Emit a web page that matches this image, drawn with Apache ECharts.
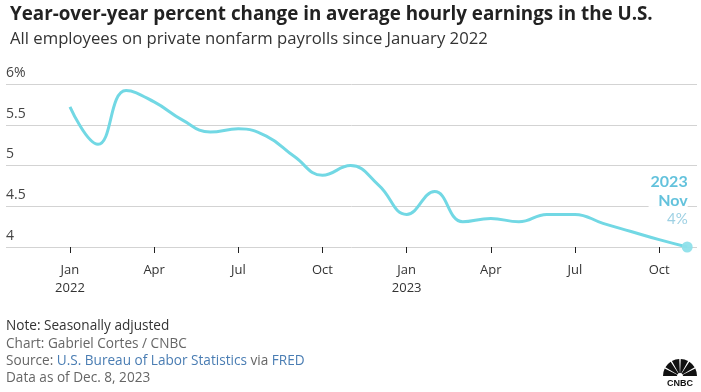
<!DOCTYPE html>
<html><head><meta charset="utf-8">
<script src="https://cdn.jsdelivr.net/npm/echarts@6/dist/echarts.min.js"></script>
<style>html,body{margin:0;padding:0;background:#fff}#c{width:701px;height:392px}</style>
</head><body><div id="c"></div>
<script>
// Monthly, Jan 2022 .. Nov 2023
const months = ['Jan 2022','Feb 2022','Mar 2022','Apr 2022','May 2022','Jun 2022','Jul 2022','Aug 2022','Sep 2022','Oct 2022','Nov 2022','Dec 2022',
                'Jan 2023','Feb 2023','Mar 2023','Apr 2023','May 2023','Jun 2023','Jul 2023','Aug 2023','Sep 2023','Oct 2023','Nov 2023'];
const values = [5.72,5.26,5.92,5.78,5.56,5.41,5.45,5.36,5.11,4.88,5.0,4.76,
                4.40,4.68,4.31,4.35,4.31,4.40,4.40,4.29,4.19,4.09,4.0];
const tickIdx = [0,3,6,9,12,15,18,21];
const tickLabels = ['Jan\n2022','Apr','Jul','Oct','Jan\n2023','Apr','Jul','Oct'];

const chart = echarts.init(document.getElementById('c'), null, {renderer:'canvas'});
const lineData = values.map((v,i)=>[i,v]);
const last = lineData[lineData.length-1];
const F = '"Open Sans", "Noto Sans", sans-serif';
const P = '"Open Sans", Lato, sans-serif';

function peacock(){
  const cx = 680, cy = 376, els = [];
  const n = 6, start = 180, end = 360, gap = 5;
  const w = (end-start - gap*(n-1))/n;
  for(let i=0;i<n;i++){
    const a0 = start + i*(w+gap), a1 = a0 + w;
    els.push({type:'sector', shape:{cx:cx, cy:cy, r0:3, r:17, startAngle:a0*Math.PI/180, endAngle:a1*Math.PI/180}, style:{fill:'#111'}});
  }
  els.push({type:'text', style:{text:'CNBC', x:cx, y:cy+8, align:'center', verticalAlign:'middle', font:'bold 9px Arial, "Liberation Sans", sans-serif', fill:'#111'}});
  return els;
}

chart.setOption({
  animation:false,
  backgroundColor:'#fff',
  title:[
    {text:'Year-over-year percent change in average hourly earnings in the U.S.', left:5, top:0,
     textStyle:{fontFamily:P, fontWeight:'bold', fontSize:18.8, color:'#222'}},
    {text:'All employees on private nonfarm payrolls since January 2022', left:5, top:26,
     textStyle:{fontFamily:P, fontWeight:'normal', fontSize:16.7, color:'#333'}}
  ],
  grid:{left:6, right:4, top:84, bottom:145, containLabel:false},
  xAxis:{
    type:'value', min:-2.28, max:22.35,
    splitLine:{show:false},
    axisLine:{show:false},
    axisTick:{show:true, customValues:tickIdx, length:6, lineStyle:{color:'#222', width:1}},
    axisLabel:{show:true, customValues:tickIdx, margin:14, fontSize:13, lineHeight:18, color:'#333', fontFamily:F,
      formatter:(v)=>{const k=tickIdx.indexOf(Math.round(v)); return k>=0?tickLabels[k]:'';}}
  },
  yAxis:{
    type:'value', min:4, max:6, interval:0.5,
    axisLine:{show:false}, axisTick:{show:false},
    splitLine:{show:true, lineStyle:{color:'#d3d3d3', width:1}},
    axisLabel:{inside:true, verticalAlign:'bottom', margin:0, padding:[0,0,4,0], fontSize:14, color:'#444', fontFamily:F,
      formatter:(v)=> v===6 ? '6%' : String(v)}
  },
  series:[
    {type:'line', data:lineData, smooth:0.45, symbol:'none', lineStyle:{color:'#72d8e4', width:3}, z:3},
    {type:'scatter', data:[last], symbolSize:11, itemStyle:{color:'#8fe0ea', opacity:0.95}, z:4,
     label:{show:true, position:[6,-13], align:'right', verticalAlign:'bottom', backgroundColor:'#fff', padding:[0,0,0,2],
       formatter:()=>'{a|2023}\n{a|Nov}\n{b|4%}',
       rich:{a:{fontFamily:'Lato, "Open Sans", sans-serif', fontWeight:'bold', fontSize:16, color:'#5bbfda', lineHeight:19, align:'right'},
             b:{fontFamily:'Lato, "Open Sans", sans-serif', fontSize:15, color:'#98cde2', lineHeight:18, align:'right'}}}}
  ],
  graphic:[
    {type:'text', left:6, top:319, style:{text:'Note: Seasonally adjusted', font:'13.6px ' + P, fill:'#333'}},
    {type:'text', left:6, top:337, style:{text:'Chart: Gabriel Cortes / CNBC', font:'13.6px ' + P, fill:'#666'}},
    {type:'text', left:6, top:354, style:{text:'{g|Source: }{l|U.S. Bureau of Labor Statistics}{g| via }{l|FRED}',
      rich:{g:{fontFamily:P, fontSize:13.6, fill:'#666'}, l:{fontFamily:P, fontSize:13.6, fill:'#4a7db3'}}}},
    {type:'text', left:6, top:371, style:{text:'Data as of Dec. 8, 2023', font:'13.6px ' + P, fill:'#666'}},
    {type:'group', children:peacock()}
  ]
});
</script></body></html>
